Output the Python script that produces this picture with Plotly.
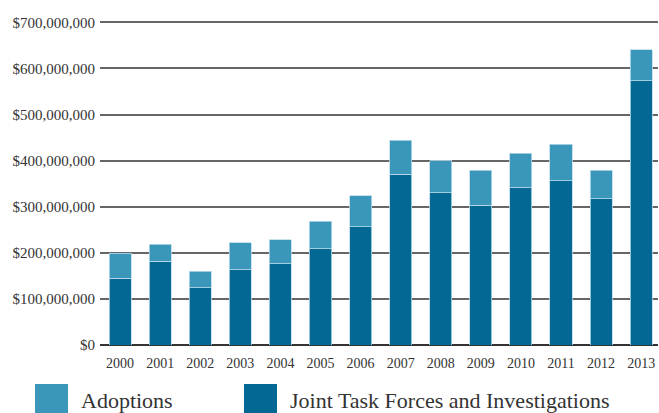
import plotly.graph_objects as go

# Equitable sharing payments by year
years = ["2000", "2001", "2002", "2003", "2004", "2005", "2006",
         "2007", "2008", "2009", "2010", "2011", "2012", "2013"]
joint_task_forces = [145e6, 182e6, 124e6, 163e6, 176e6, 209e6, 257e6,
                     370e6, 330e6, 303e6, 341e6, 356e6, 317e6, 573e6]
adoptions = [54e6, 37e6, 36e6, 59e6, 52e6, 59e6, 67e6,
             74e6, 70e6, 76e6, 75e6, 79e6, 62e6, 67e6]

DARK = "#036894"
LIGHT = "#3a97ba"
EDGE = "#b9dbe8"
FONT = "Liberation Serif"

W, H = 659, 413
L, R, T, B = 100, 1, 20, 68


def paper_x(px):
    return (px - L) / (W - L - R)


def paper_y(py):
    return (H - B - py) / (H - T - B)


fig = go.Figure()
fig.add_trace(go.Bar(
    name="Joint Task Forces and Investigations",
    x=years, y=joint_task_forces,
    marker=dict(color=DARK, line=dict(color=EDGE, width=0.8)),
    showlegend=False,
))
fig.add_trace(go.Bar(
    name="Adoptions",
    x=years, y=adoptions,
    marker=dict(color=LIGHT, line=dict(color=EDGE, width=0.8)),
    showlegend=False,
))

# Legend drawn as big swatches, like the reference
legend_items = [("Adoptions", LIGHT, 35), ("Joint Task Forces and Investigations", DARK, 244)]
for label, color, x0 in legend_items:
    fig.add_shape(type="rect", xref="paper", yref="paper",
                  x0=paper_x(x0), x1=paper_x(x0 + 33),
                  y0=paper_y(384), y1=paper_y(418),
                  fillcolor=color, line=dict(width=0), layer="above")
    fig.add_annotation(text=label, xref="paper", yref="paper",
                       x=paper_x(x0 + 44), y=paper_y(400),
                       xanchor="left", yanchor="middle", showarrow=False,
                       font=dict(family=FONT, size=22, color="#333333"))

fig.update_layout(
    width=W, height=H,
    barmode="stack",
    bargap=0.45,
    margin=dict(l=L, r=R, t=T, b=B),
    plot_bgcolor="white",
    paper_bgcolor="white",
    font=dict(family=FONT, color="#333333"),
    xaxis=dict(
        range=[-0.5, 13.42],
        showgrid=False,
        showline=False,
        tickfont=dict(size=14),
        ticks="",
        ticklabelstandoff=8,
    ),
    yaxis=dict(
        range=[0, 705e6],
        dtick=100e6,
        tickformat="$,",
        tickfont=dict(size=15),
        showgrid=True,
        gridcolor="#666666",
        gridwidth=1.5,
        zeroline=True,
        zerolinecolor="#333333",
        zerolinewidth=1.5,
        ticks="",
        ticklabelstandoff=4,
    ),
)

# drop the browser's default body margin so the figure fills the window
fig.write_html("out.html", config={"displayModeBar": False},
               post_script="document.body.style.margin='0';")
